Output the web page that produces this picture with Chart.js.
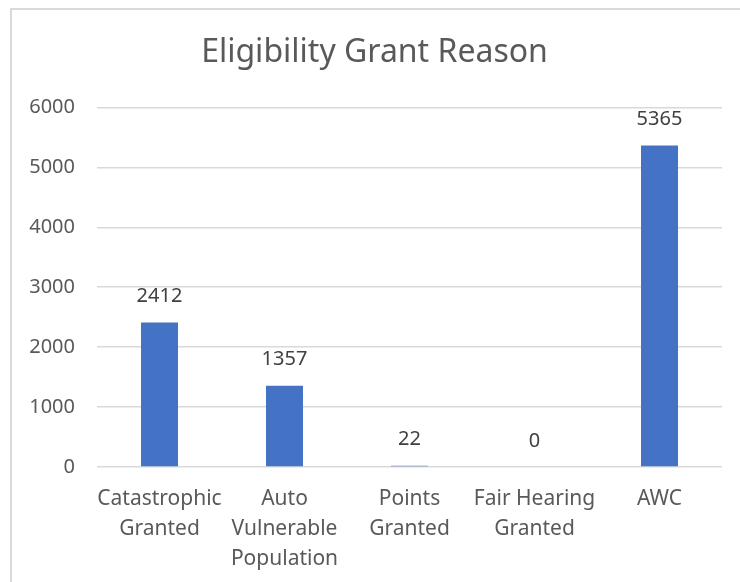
<!DOCTYPE html>
<html>
<head>
<meta charset="utf-8">
<script src="https://cdn.jsdelivr.net/npm/chart.js@4/dist/chart.umd.min.js"></script>
<style>
  html, body { margin: 0; padding: 0; background: #fff; }
  #wrap { position: relative; width: 740px; height: 582px; }
  #frame {
    position: absolute; left: 10px; top: 8px; width: 740px; height: 600px;
    border-left: 2px solid #d9d9d9; border-top: 2px solid #d9d9d9;
  }
  canvas { position: absolute; left: 0; top: 0; }
</style>
</head>
<body>
<div id="wrap">
  <div id="frame"></div>
  <canvas id="grantChart" width="740" height="582"></canvas>
</div>
<script>
const categories = [
  ['Catastrophic', 'Granted'],
  ['Auto', 'Vulnerable', 'Population'],
  ['Points', 'Granted'],
  ['Fair Hearing', 'Granted'],
  ['AWC']
];
const grantCounts = [2412, 1357, 22, 0, 5365];
const yTicks = [0, 1000, 2000, 3000, 4000, 5000, 6000];

const fontFamily = '"Noto Sans", "Open Sans", sans-serif';

// draws the number above each bar
const valueLabels = {
  id: 'valueLabels',
  afterDatasetsDraw(chart) {
    const ctx = chart.ctx;
    const meta = chart.getDatasetMeta(0);
    ctx.save();
    ctx.font = '20px ' + fontFamily;
    ctx.fillStyle = '#404040';
    ctx.textAlign = 'center';
    ctx.textBaseline = 'middle';
    meta.data.forEach((bar, i) => {
      ctx.fillText(String(grantCounts[i]), bar.x, bar.y - 26);
    });
    ctx.restore();
  }
};

new Chart(document.getElementById('grantChart'), {
  type: 'bar',
  data: {
    labels: categories,
    datasets: [{
      data: grantCounts,
      backgroundColor: '#4472C4',
      borderWidth: 0,
      categoryPercentage: 1,
      barPercentage: 0.296
    }]
  },
  options: {
    responsive: false,
    animation: false,
    layout: { padding: { left: 27, right: 18, bottom: 0 } },
    plugins: {
      legend: { display: false },
      tooltip: { enabled: false },
      title: {
        display: true,
        text: 'Eligibility Grant Reason',
        color: '#595959',
        font: { family: fontFamily, size: 32, weight: 'normal' },
        padding: { top: 34, bottom: 35 }
      }
    },
    scales: {
      y: {
        min: 0,
        max: 6000,
        afterBuildTicks: scale => { scale.ticks = yTicks.map(v => ({ value: v })); },
        afterFit: scale => { scale.width = 70; },
        ticks: {
          color: '#595959',
          padding: 22,
          callback: v => String(v),
          font: { family: fontFamily, size: 20 }
        },
        grid: { color: '#d9d9d9', lineWidth: 1.5, drawTicks: false },
        border: { display: false }
      },
      x: {
        afterFit: scale => { scale.height = 115; },
        ticks: {
          color: '#595959',
          padding: 9,
          maxRotation: 0,
          autoSkip: false,
          font: { family: fontFamily, size: 21, lineHeight: 1.43 }
        },
        grid: { display: false },
        border: { display: false }
      }
    }
  },
  plugins: [valueLabels]
});
</script>
</body>
</html>
